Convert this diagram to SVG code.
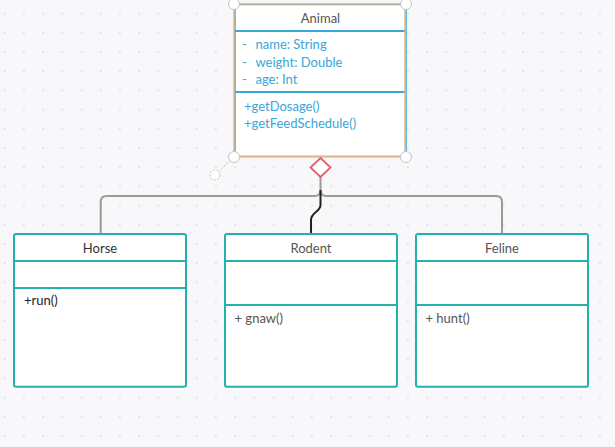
<svg xmlns="http://www.w3.org/2000/svg" width="615" height="447" viewBox="0 0 615 447">
<defs>
<pattern id="dots" x="0" y="0" width="19.2" height="19.2" patternUnits="userSpaceOnUse">
<circle cx="4.7" cy="13.5" r="1" fill="#dcdce2"/>
</pattern>
<style>
.box{fill:#fff;stroke:#22b1ab;stroke-width:2}
.div{stroke:#22b1ab;stroke-width:2}
.t{font-family:Lato,"Open Sans",sans-serif;font-size:13px}
.hd{fill:#555;text-anchor:middle}
.attr{fill:#3aa6d6}
.meth{fill:#555}
.conn{fill:none;stroke:#9a9a9a;stroke-width:2}
.handle{fill:#fff;stroke:#c4c4c4;stroke-width:1}
</style>
</defs>
<rect width="615" height="447" fill="#f8f8fa"/>
<rect width="615" height="447" fill="url(#dots)"/>

<g id="connectors">
<path class="conn" d="M320.5,177 V190 Q320.5,196 314.5,196 H106.7 Q100.7,196 100.7,202 V234"/>
<path class="conn" d="M320.5,190 Q320.5,196 326.5,196 H496 Q502,196 502,202 V234"/>
<path d="M320.5,190 V205 C320.5,212 311,212 311,220 V234" fill="none" stroke="#222" stroke-width="2"/>
</g>

<g id="animal">
<rect x="235" y="4.5" width="171" height="152" fill="#fff" stroke="#3aa6d6" stroke-width="1.5"/>
<line x1="235" y1="31" x2="406" y2="31" stroke="#3aa6d6" stroke-width="2"/>
<line x1="235" y1="92" x2="406" y2="92" stroke="#3aa6d6" stroke-width="2"/>
<rect x="234" y="4" width="171" height="152.5" fill="none" stroke="#e2b68a" stroke-width="1.5"/>
<text class="t hd" x="320.5" y="22.7">Animal</text>
<text class="t attr" x="242" y="49.3">-</text>
<text class="t attr" x="255.5" y="49.3">name: String</text>
<text class="t attr" x="242" y="66.5">-</text>
<text class="t attr" x="255.5" y="66.5">weight: Double</text>
<text class="t attr" x="242" y="83.5">-</text>
<text class="t attr" x="255.5" y="83.5">age: Int</text>
<text class="t attr" x="244" y="111">+getDosage()</text>
<text class="t attr" x="244" y="128.3">+getFeedSchedule()</text>
<line x1="234" y1="157" x2="215" y2="175" stroke="#bbb" stroke-width="1" stroke-dasharray="2,2"/>
<circle class="handle" cx="215" cy="175" r="5" stroke-dasharray="2,1.5"/>
<circle class="handle" cx="234" cy="4" r="5.5"/>
<circle class="handle" cx="406" cy="4" r="5.5"/>
<circle class="handle" cx="234" cy="157" r="5.5"/>
<circle class="handle" cx="406" cy="157" r="5.5"/>
<polygon points="320.5,158 330.5,167.5 320.5,177 310.5,167.5" fill="#fff" stroke="#d9646e" stroke-width="1.8"/>
</g>

<g id="horse">
<rect class="box" x="14" y="234" width="172" height="152.7" rx="2"/>
<line class="div" x1="14" y1="261" x2="186" y2="261"/>
<line class="div" x1="14" y1="288" x2="186" y2="288"/>
<text class="t hd" x="100" y="252.7" fill="#333" style="fill:#333">Horse</text>
<text class="t" x="24" y="305" fill="#222">+run()</text>
</g>

<g id="rodent">
<rect class="box" x="225" y="234" width="172" height="152.7" rx="2"/>
<line class="div" x1="225" y1="261" x2="397" y2="261"/>
<line class="div" x1="225" y1="305" x2="397" y2="305"/>
<text class="t hd" x="311" y="252.7">Rodent</text>
<text class="t meth" x="234.5" y="323">+ gnaw()</text>
</g>

<g id="feline">
<rect class="box" x="416" y="234" width="172" height="152.7" rx="2"/>
<line class="div" x1="416" y1="261" x2="588" y2="261"/>
<line class="div" x1="416" y1="305" x2="588" y2="305"/>
<text class="t hd" x="502" y="252.7">Feline</text>
<text class="t meth" x="425.5" y="323">+ hunt()</text>
</g>
</svg>
